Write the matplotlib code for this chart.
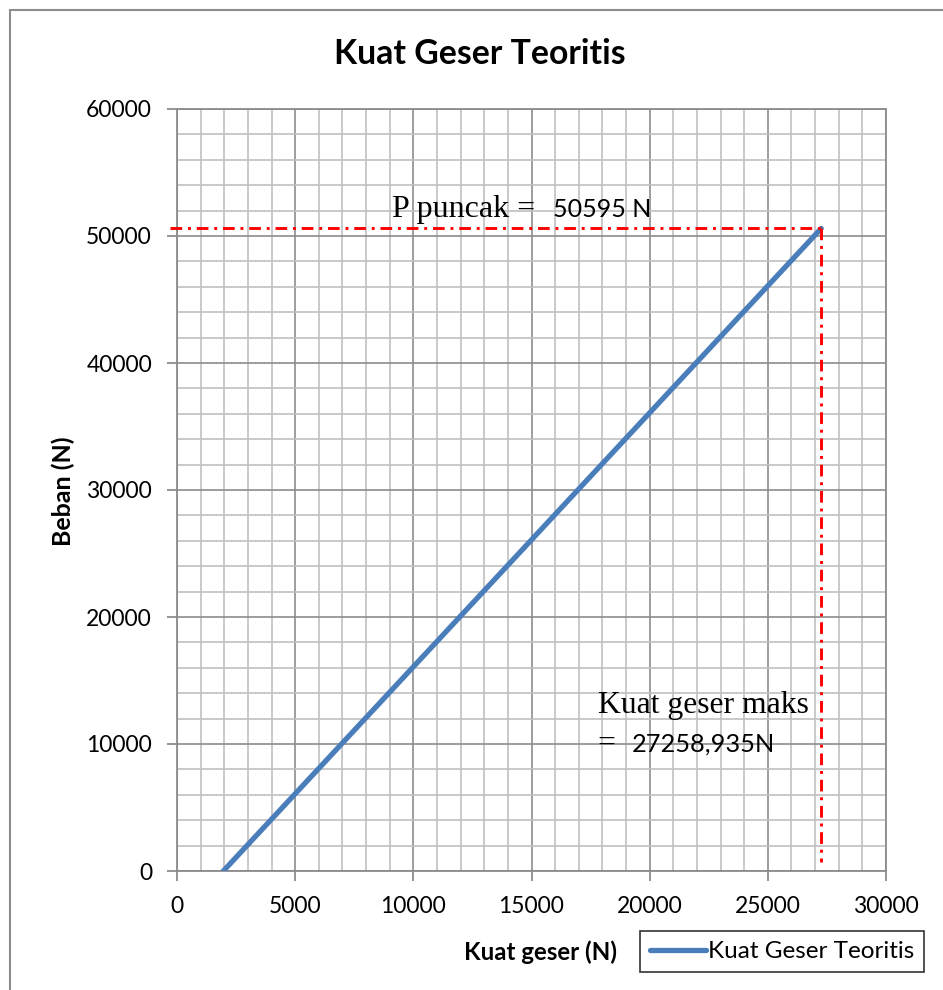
import matplotlib
matplotlib.use("Agg")
import matplotlib.pyplot as plt
from matplotlib.ticker import MultipleLocator
from matplotlib.patches import Rectangle

# Data
kuat_geser = [1961, 27258.935]   # x (N)
beban = [0, 50595]               # y (N)
p_puncak = 50595
v_maks = 27258.935

SANS = ["Lato", "DejaVu Sans"]
SERIF = ["Liberation Serif", "DejaVu Serif"]

fig = plt.figure(figsize=(9.43, 9.90), dpi=100)
fig.patch.set_facecolor("white")
ax = fig.add_axes([177/943, 1-871/990, (886-177)/943, (871-109)/990])

ax.set_xlim(0, 30000)
ax.set_ylim(0, 60000)
ax.xaxis.set_major_locator(MultipleLocator(5000))
ax.xaxis.set_minor_locator(MultipleLocator(1000))
ax.yaxis.set_major_locator(MultipleLocator(10000))
ax.yaxis.set_minor_locator(MultipleLocator(2000))

ax.grid(which="minor", color="#c0c0c0", lw=1.2, zorder=0)
ax.grid(which="major", color="#8c8c8c", lw=1.2, zorder=0)
ax.set_axisbelow(True)
for s in ax.spines.values():
    s.set_color("#8c8c8c")
    s.set_linewidth(1.3)

ax.tick_params(which="major", direction="out", length=7, width=1.3, color="#8c8c8c",
               labelsize=16.5, pad=11)
ax.tick_params(which="minor", length=0)
for lab in ax.get_xticklabels() + ax.get_yticklabels():
    lab.set_family(SANS)

ax.plot(kuat_geser, beban, color="#4a7ebb", lw=3.8, solid_capstyle="round",
        label="Kuat Geser Teoritis", zorder=3)

dash = (0, (4, 2, 1, 2))
ax.plot([-300, v_maks], [p_puncak, p_puncak], color="red", lw=2.1, ls=dash,
        clip_on=False, zorder=4)
ax.plot([v_maks, v_maks], [p_puncak, 700], color="red", lw=2.1, ls=dash,
        clip_on=False, zorder=4)

# Annotations
ax.text(9100, 51500, "P puncak =", family=SERIF, fontsize=23, va="baseline", ha="left")
ax.text(15910, 51500, "50595 N", family=SANS, fontsize=18, va="baseline", ha="left")
ax.text(17800, 12440, "Kuat geser maks", family=SERIF, fontsize=22.8, va="baseline", ha="left")
ax.text(17800, 9370, "=", family=SERIF, fontsize=22.8, va="baseline", ha="left")
ax.text(19250, 9370, "27258,935N", family=SANS, fontsize=18.3, va="baseline", ha="left")

# Title and labels
fig.text(480/943, 1-64/990, "Kuat Geser Teoritis", family=SANS, fontsize=24.3,
         fontweight="bold", ha="center", va="baseline")
fig.text(63/943, 1-491/990, "Beban (N)", family=SANS, fontsize=18,
         fontweight="bold", ha="center", va="center", rotation=90)
fig.text(541/943, 1-952/990, "Kuat geser (N)", family=SANS, fontsize=17.4,
         fontweight="bold", ha="center", va="center")

# Legend
leg = ax.legend(loc="center", bbox_to_anchor=(782/943, 1-951.5/990),
                bbox_transform=fig.transFigure, prop={"family": SANS, "size": 17.5},
                frameon=True, fancybox=False, edgecolor="black", handlelength=2.3,
                handletextpad=0.1, borderpad=0.4)
leg.get_frame().set_linewidth(1.2)

# Outer border
fig.patches.append(Rectangle((10/943, -0.05), 1.2, 1 - 10/990 + 0.05,
                             transform=fig.transFigure, fill=False,
                             edgecolor="#8c8c8c", lw=1.5))

fig.savefig("out.png", dpi=100, facecolor="white")
